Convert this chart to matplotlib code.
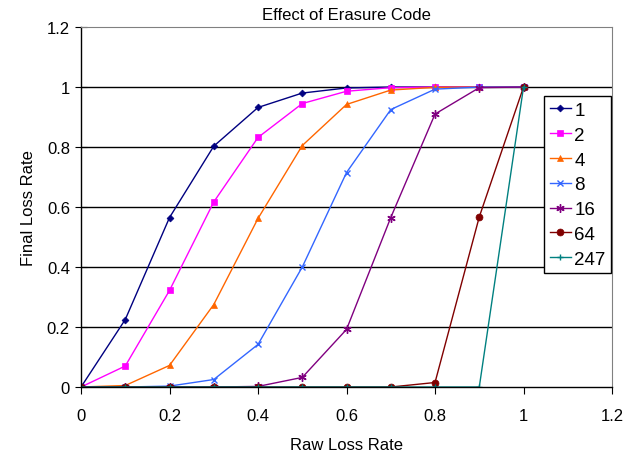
import matplotlib
matplotlib.use("Agg")
import matplotlib.pyplot as plt

plt.rcParams['font.family'] = ['Liberation Sans', 'DejaVu Sans']

x = [0, 0.1, 0.2, 0.3, 0.4, 0.5, 0.6, 0.7, 0.8, 0.9, 1.0]
s1 = [0, 0.225, 0.565, 0.803, 0.932, 0.98, 0.997, 1, 1, 1, 1]
s2 = [0, 0.07, 0.322, 0.617, 0.832, 0.945, 0.986, 0.998, 1, 1, 1]
s4 = [0, 0.005, 0.072, 0.275, 0.562, 0.805, 0.942, 0.99, 0.999, 1, 1]
s8 = [0, 0, 0.003, 0.025, 0.142, 0.4, 0.715, 0.925, 0.993, 1, 1]
s16 = [0, 0, 0, 0, 0.002, 0.032, 0.192, 0.565, 0.91, 0.998, 1]
s64 = [0, 0, 0, 0, 0, 0, 0, 0, 0.015, 0.567, 1]
s247 = [0, 0, 0, 0, 0, 0, 0, 0, 0, 0, 1]
labels = ['1', '2', '4', '8', '16', '64', '247']
series = [s1, s2, s4, s8, s16, s64, s247]
colors = ['#000080', '#FF00FF', '#FF6600', '#3366FF', '#800080', '#800000', '#008080']
markers = ['D', 's', '^', 'x', (6, 2, 0), 'o', '+']
msizes = [3.5, 5, 5, 5, 6, 5, 4]

fig = plt.figure(figsize=(6.41, 4.6), dpi=100)
ax = fig.add_axes([0.1264, 0.1565, 0.8284, 0.7825])

for y, c, m, ms, lab in zip(series, colors, markers, msizes, labels):
    ax.plot(x, y, color=c, marker=m, markersize=ms, linewidth=1, label=lab,
            markeredgewidth=1 if m in ('x', '+', (6, 2, 0)) else 0.5)

ax.set_xlim(0, 1.2)
ax.set_ylim(0, 1.2)
ticks = [0, 0.2, 0.4, 0.6, 0.8, 1.0, 1.2]
ticklabels = ['0', '0.2', '0.4', '0.6', '0.8', '1', '1.2']
ax.set_xticks(ticks)
ax.set_xticklabels(ticklabels)
ax.set_yticks(ticks)
ax.set_yticklabels(ticklabels)
for v in [0.2, 0.4, 0.6, 0.8, 1.0]:
    ax.axhline(v, color='black', linewidth=1, zorder=0)

ax.spines['left'].set_color('black')
ax.spines['bottom'].set_color('black')
ax.spines['top'].set_color('#808080')
ax.spines['right'].set_color('#808080')
ax.spines['left'].set_linewidth(1)
ax.spines['bottom'].set_linewidth(1)
ax.spines['top'].set_linewidth(0.8)
ax.spines['right'].set_linewidth(0.8)

ax.tick_params(axis='x', direction='out', length=5, labelsize=12, pad=10)
ax.tick_params(axis='y', direction='inout', length=8, labelsize=12, pad=4)

ax.set_title('Effect of Erasure Code', fontsize=12, pad=6)
ax.set_xlabel('Raw Loss Rate', fontsize=12, labelpad=10)
ax.set_ylabel('Final Loss Rate', fontsize=12, labelpad=8)

leg = ax.legend(loc='upper right', bbox_to_anchor=(0.999, 0.808), fontsize=13.5,
                frameon=True, fancybox=False, edgecolor='black',
                handlelength=1.15, borderpad=0.3, labelspacing=0.41,
                handletextpad=0.18, borderaxespad=0.0, framealpha=1)
leg.get_frame().set_linewidth(1)

fig.savefig('out.png', dpi=100)
